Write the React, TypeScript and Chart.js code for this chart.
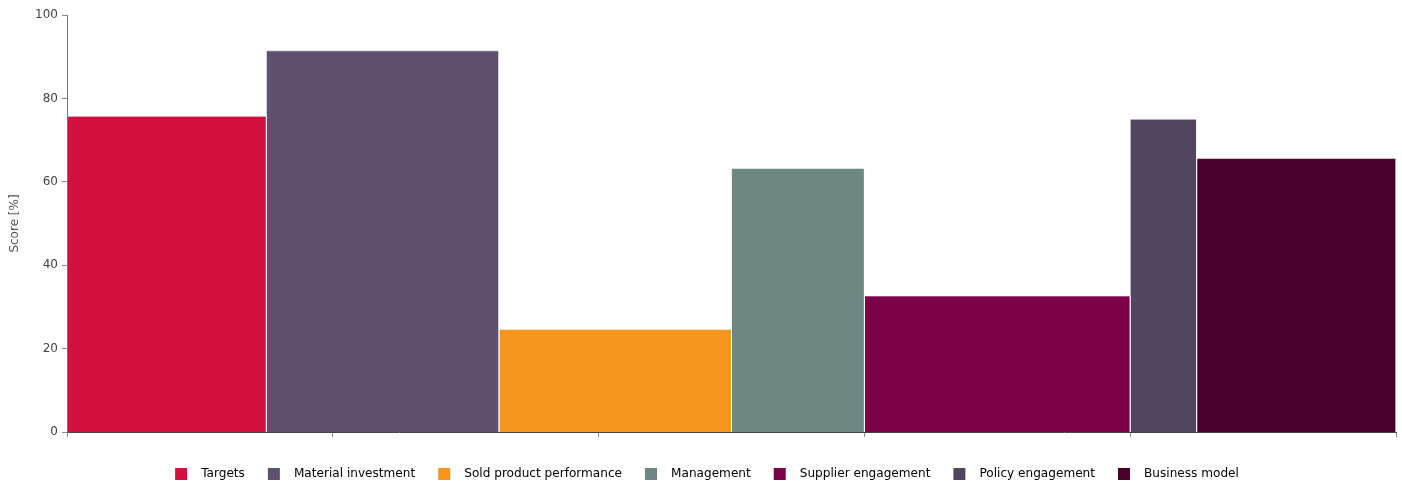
import React, { useEffect, useRef } from "react";
import { Chart, registerables } from "chart.js";

Chart.register(...registerables);

const categories = [
  "Targets",
  "Material investment",
  "Sold product performance",
  "Management",
  "Supplier engagement",
  "Policy engagement",
  "Business model",
];
const scores = [75.7, 91.4, 24.6, 63.2, 32.6, 75.0, 65.6];
const weights = [15, 17.5, 17.5, 10, 20, 5, 15];
const colors = ["#D11241", "#5F5070", "#F6961E", "#6D8781", "#7C0046", "#514560", "#4B0029"];
const yTicks = [0, 20, 40, 60, 80, 100];
const xTicks = [0, 20, 40, 60, 80, 100];
const yTitle = "Score [%]";

export default function App() {
  const ref = useRef<HTMLCanvasElement>(null);

  useEffect(() => {
    if (!ref.current) return;
    let start = 0;
    const datasets = categories.map((name, i) => {
      const s = start;
      const e = start + weights[i];
      start = e;
      return {
        label: name,
        data: [
          { x: s, y: 0 },
          { x: s, y: scores[i] },
          { x: e, y: scores[i] },
          { x: e, y: 0 },
        ],
        backgroundColor: colors[i],
        borderColor: "rgba(255,255,255,0.55)",
        borderWidth: 1,
        pointRadius: 0,
        pointHoverRadius: 0,
        fill: "origin",
        tension: 0,
      };
    });

    const chart = new Chart(ref.current, {
      type: "line",
      data: { datasets: datasets as any },
      options: {
        animation: false,
        responsive: false,
        maintainAspectRatio: false,
        font: { family: "'DejaVu Sans', sans-serif", size: 12 },
        layout: { padding: { top: 15, right: 6, bottom: -16, left: 10 } },
        plugins: {
          tooltip: { enabled: false },
          legend: {
            position: "bottom",
            labels: {
              color: "#333",
              font: { family: "'DejaVu Sans', sans-serif", size: 12.1 },
              boxWidth: 28,
              boxHeight: 28,
              padding: 15,
              generateLabels: (c: any) =>
                c.data.datasets.map((ds: any, i: number) => ({
                  text: ds.label,
                  fillStyle: colors[i],
                  strokeStyle: "#ffffff",
                  lineWidth: 16,
                  hidden: false,
                  datasetIndex: i,
                })),
            },
          },
        },
        scales: {
          x: {
            type: "linear",
            min: 0,
            max: 100,
            afterBuildTicks: (s: any) => {
              s.ticks = xTicks.map((v) => ({ value: v }));
            },
            afterFit: (s: any) => {
              s.height = 13;
            },
            ticks: { display: false },
            grid: { drawOnChartArea: false, drawTicks: true, tickLength: 5, color: "#888" },
            border: { color: "#444", width: 1, z: 1 },
          },
          y: {
            type: "linear",
            min: 0,
            max: 100,
            afterBuildTicks: (s: any) => {
              s.ticks = yTicks.map((v) => ({ value: v }));
            },
            afterFit: (s: any) => {
              s.width = 57;
            },
            ticks: {
              color: "#444",
              padding: 4,
              font: { family: "'DejaVu Sans', sans-serif", size: 12 },
            },
            grid: { drawOnChartArea: false, drawTicks: true, tickLength: 5, color: "#888" },
            border: { color: "#777", width: 1, z: 1 },
            title: {
              display: true,
              text: yTitle,
              color: "#555",
              padding: { top: -2, bottom: 0 },
              font: { family: "'DejaVu Sans', sans-serif", size: 12 },
            },
          },
        },
      } as any,
    });
    return () => chart.destroy();
  }, []);

  return (
    <div style={{ position: "fixed", left: 0, top: 0, width: 1402, height: 482, background: "#fff" }}>
      <canvas ref={ref} width={1402} height={482} style={{ display: "block" }} />
    </div>
  );
}
